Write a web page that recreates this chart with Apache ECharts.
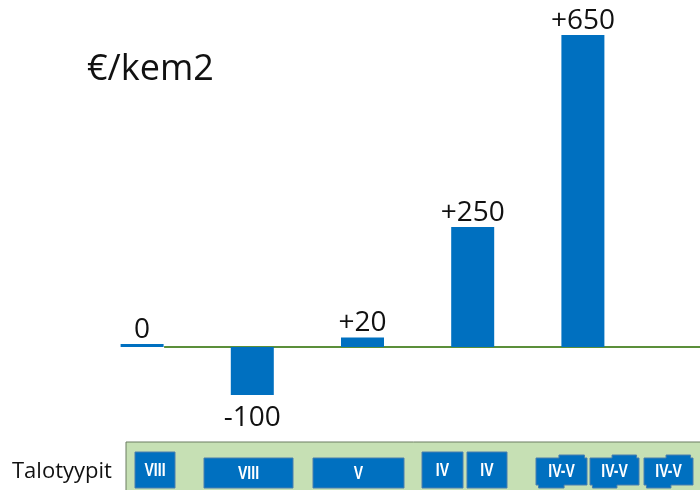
<!DOCTYPE html>
<html>
<head>
<meta charset="utf-8">
<script src="https://cdn.jsdelivr.net/npm/echarts@6/dist/echarts.min.js"></script>
<style>
  html, body { margin: 0; padding: 0; background: #fff; }
  #chart { width: 700px; height: 490px; }
</style>
</head>
<body>
<div id="chart"></div>
<script>
// House type groups (one bar per group) and cost change per group
const categories = ['VIII', 'VIII', 'V', 'IV IV', 'IV-V IV-V IV-V'];
const values = [0, -100, 20, 250, 650];

// House type boxes in the strip under the chart
const typeLabels = ['VIII', 'VIII', 'V', 'IV', 'IV', 'IV-V', 'IV-V', 'IV-V'];

const unitLabel = '€/kem2';
const stripTitle = 'Talotyypit';

const BLUE = '#0070c0';
const GREEN = '#5b8f3a';
const FONT = '"Open Sans", "DejaVu Sans", sans-serif';
const BOXFONT = '"Liberation Sans", Arial, sans-serif';

const chart = echarts.init(document.getElementById('chart'));

function signed(v) {
  return v > 0 ? '+' + v : String(v);
}

chart.setOption({
  animation: false,
  backgroundColor: '#ffffff',
  title: {
    text: unitLabel,
    left: 82,
    top: 47,
    textStyle: { fontFamily: FONT, fontSize: 36, fontWeight: 'normal', color: '#111' }
  },
  grid: { left: 87, right: 62, top: 11, bottom: 47 },
  xAxis: {
    type: 'category',
    data: categories,
    axisLine: { show: false },
    axisTick: { show: false },
    axisLabel: { show: false },
    splitLine: { show: false }
  },
  yAxis: {
    type: 'value',
    min: -200,
    max: 700,
    show: false,
    splitLine: { show: false }
  },
  series: [{
    type: 'bar',
    // negative bars carry their label underneath
    data: values.map(v => v < 0
      ? { value: v, label: { position: 'bottom', distance: 9 } }
      : v),
    barWidth: 43,
    barMinHeight: 3,
    itemStyle: { color: BLUE },
    z: 3,
    label: {
      show: true,
      position: 'top',
      distance: 0,
      fontFamily: FONT,
      fontSize: 28,
      color: '#111',
      formatter: p => signed(p.value)
    }
  }]
});

// Baseline at zero, running from the first bar to the right edge,
// and the house type strip along the bottom
function drawDecor() {
  const p0 = chart.convertToPixel({ xAxisIndex: 0, yAxisIndex: 0 }, [0, 0]);
  const W = chart.getWidth();
  const H = chart.getHeight();

  const elements = [];
  elements.push({
    type: 'line',
    z: 2,
    shape: { x1: p0[0] + 22, y1: p0[1], x2: W, y2: p0[1] },
    style: { stroke: GREEN, lineWidth: 2 }
  });

  // strip background
  elements.push({
    type: 'rect',
    z: 1,
    shape: { x: 126, y: 442, width: W - 126 + 4, height: H - 442 + 4 },
    style: { fill: '#c6e0b4', stroke: '#6b7d60', lineWidth: 1 }
  });

  elements.push({
    type: 'text',
    z: 2,
    style: {
      text: stripTitle, x: 12, y: 472,
      fontFamily: FONT, fontSize: 22, fill: '#111',
      verticalAlign: 'middle'
    }
  });

  // box geometry: [x, width, top, notched]
  const boxes = [
    [135, 40, 452, false],
    [204, 89, 458, false],
    [313, 91, 458, false],
    [422, 41, 452, false],
    [467, 40, 452, false],
    [536, 51, 455, true],
    [590, 49, 455, true],
    [644, 49, 455, true]
  ];
  boxes.forEach((b, i) => {
    const [x, w, top, notched] = b;
    const bottom = 488;
    if (notched) {
      // small steps on the top and bottom edges
      elements.push({
        type: 'polygon', z: 2,
        shape: { points: [
          [x, top + 3], [x + w * 0.45, top + 3], [x + w * 0.45, top],
          [x + w * 0.95, top], [x + w * 0.95, top + 3], [x + w, top + 3],
          [x + w, bottom - 3], [x + w * 0.55, bottom - 3], [x + w * 0.55, bottom],
          [x + w * 0.05, bottom], [x + w * 0.05, bottom - 3], [x, bottom - 3]
        ] },
        style: { fill: BLUE, stroke: '#4a7fae', lineWidth: 1 }
      });
    } else {
      elements.push({
        type: 'rect', z: 2,
        shape: { x: x, y: top, width: w, height: bottom - top },
        style: { fill: BLUE, stroke: '#4a7fae', lineWidth: 1 }
      });
    }
    // condensed white label
    elements.push({
      type: 'text', z: 3,
      x: x + w / 2,
      y: (top + bottom) / 2 + 1,
      scaleX: 0.78,
      style: {
        text: typeLabels[i], x: 0, y: 0,
        fontFamily: BOXFONT, fontSize: 18, fontWeight: 'bold', fill: '#fff',
        align: 'center', verticalAlign: 'middle'
      }
    });
  });

  chart.setOption({ graphic: { elements: elements } });
}

drawDecor();
</script>
</body>
</html>
